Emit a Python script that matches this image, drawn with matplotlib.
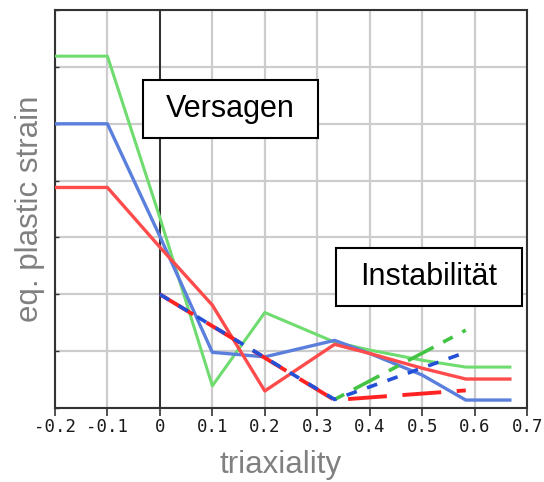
import matplotlib.pyplot as plt
from matplotlib.patches import Rectangle

plt.rcParams['font.family'] = ['Liberation Sans', 'DejaVu Sans']

# solid curves (eq. plastic strain vs triaxiality)
x_solid = [-0.2, -0.1, 0.0, 0.1, 0.2, 0.333, 0.4, 0.5, 0.583, 0.667]
green = [6.19, 6.19, 3.35, 0.39, 1.68, 1.16, 1.02, 0.84, 0.72, 0.72]
blue = [5.0, 5.0, 3.02, 0.98, 0.90, 1.19, 0.96, 0.58, 0.14, 0.14]
red = [3.88, 3.88, 2.83, 1.81, 0.30, 1.12, 0.96, 0.70, 0.51, 0.51]

# instability curves
x_inst = [0.0, 0.333, 0.583]
red_inst = [2.0, 0.14, 0.31]
blue_inst = [2.0, 0.15, 0.98]
green_inst = [2.0, 0.15, 1.37]

xticks = [-0.2, -0.1, 0, 0.1, 0.2, 0.3, 0.4, 0.5, 0.6, 0.7]
xticklabels = ['-0.2', '-0.1', '0', '0.1', '0.2', '0.3', '0.4', '0.5', '0.6', '0.7']

fig = plt.figure(figsize=(5.44, 4.82), dpi=100)
ax = fig.add_axes([0.101, 0.1535, 0.868, 0.8255])

ax.set_xlim(-0.2, 0.7)
ax.set_ylim(0, 7)
ax.set_xticks(xticks)
ax.set_xticklabels(xticklabels, family='DejaVu Sans Mono', fontsize=12.5, color='#1a1a1a')
ax.set_yticks(range(0, 8))
ax.set_yticklabels([])
ax.grid(True, color='#cccccc', linewidth=1.6)
ax.set_axisbelow(True)
ax.tick_params(axis='x', direction='out', length=6, width=1.2, color='#333333', pad=1)
ax.tick_params(axis='y', direction='in', length=3, width=1.0, color='#333333')
for s in ax.spines.values():
    s.set_color('#333333')
    s.set_linewidth(1.5)

ax.axvline(0, color='#222222', linewidth=1.3, zorder=2)

ax.plot(x_solid, green, color='#6fdc6f', linewidth=2.2, zorder=3)
ax.plot(x_solid, blue, color='#5a7fdc', linewidth=2.4, zorder=3)
ax.plot(x_solid, red, color='#ff4b4b', linewidth=2.4, zorder=3)

ax.plot(x_inst[1:], green_inst[1:], color='#44c444', linewidth=2.6,
        dashes=(3, 3, 8, 3), zorder=4)
ax.plot(x_inst, red_inst, color='#ff2222', linewidth=2.8, dashes=(10, 4), zorder=4)
ax.plot(x_inst, blue_inst, color='#2450d8', linewidth=2.6, dashes=(3, 3), zorder=5)

ax.add_patch(Rectangle((0.186, 0.678), 0.371, 0.146, transform=ax.transAxes,
                       facecolor='white', edgecolor='black', linewidth=1.5, zorder=6))
ax.text(0.371, 0.751, 'Versagen', transform=ax.transAxes, ha='center', va='center',
        fontsize=22, color='black', zorder=7)
ax.add_patch(Rectangle((0.595, 0.256), 0.394, 0.146, transform=ax.transAxes,
                       facecolor='white', edgecolor='black', linewidth=1.5, zorder=6))
ax.text(0.792, 0.329, 'Instabilität', transform=ax.transAxes, ha='center', va='center',
        fontsize=22, color='black', zorder=7)

fig.text(30 / 544, 1 - 209 / 482, 'eq. plastic strain', rotation=90, ha='center',
         va='center', fontsize=22.5, color='#808080')
fig.text(281 / 544, 1 - 465 / 482, 'triaxiality', ha='center', va='center',
         fontsize=22.5, color='#808080')

fig.savefig('out.png', dpi=100)
